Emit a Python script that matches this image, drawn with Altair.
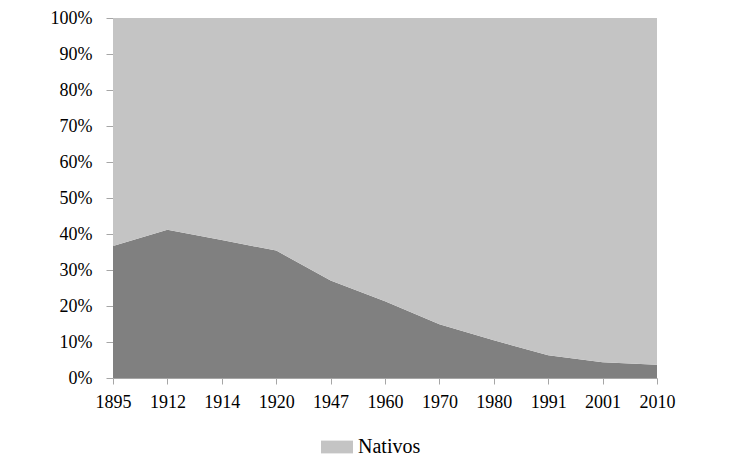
import altair as alt
import pandas as pd

years = ["1895", "1912", "1914", "1920", "1947", "1960", "1970", "1980", "1991", "2001", "2010"]
extranjeros = [36.7, 41.2, 38.3, 35.4, 27.1, 21.3, 14.9, 10.5, 6.3, 4.4, 3.7]
nativos = [round(100 - v, 1) for v in extranjeros]

rows = []
for y, e, n in zip(years, extranjeros, nativos):
    rows.append({"year": y, "grupo": "Extranjeros", "valor": e, "orden": 0})
    rows.append({"year": y, "grupo": "Nativos", "valor": n, "orden": 1})
df = pd.DataFrame(rows)

font = "Liberation Serif"

chart = alt.Chart(df).mark_area(opacity=1).encode(
    x=alt.X("year:O", sort=years, title=None,
            scale=alt.Scale(type="point", padding=0),
            axis=alt.Axis(labelAngle=0, labelFont=font, labelFontSize=18, labelColor="#000",
                          domainColor="#a6a6a6", tickColor="#a6a6a6", tickSize=6,
                          labelPadding=9)),
    y=alt.Y("valor:Q", stack="normalize", title=None,
            scale=alt.Scale(domain=[0, 1]),
            axis=alt.Axis(format="%", values=[0, .1, .2, .3, .4, .5, .6, .7, .8, .9, 1],
                          labelFont=font, labelFontSize=18, labelColor="#000",
                          domainColor="#a6a6a6", tickColor="#a6a6a6", tickSize=7,
                          grid=False, labelPadding=14)),
    color=alt.Color("grupo:N", title=None,
                    scale=alt.Scale(domain=["Extranjeros", "Nativos"], range=["#808080", "#c4c4c4"]),
                    legend=alt.Legend(values=["Nativos"], orient="none", legendX=208, legendY=413,
                                      symbolType="M-1,-0.4L1,-0.4L1,0.4L-1,0.4Z", symbolSize=1024,
                                      symbolStrokeWidth=0, symbolOpacity=1, labelOffset=5)),
    order=alt.Order("orden:Q"),
).properties(
    width=544, height=360,
    autosize=alt.AutoSizeParams(type="none"),
    padding={"left": 105, "top": 10, "right": 60, "bottom": 86},
).configure_view(stroke=None).configure_legend(
    labelFont=font, labelFontSize=20, labelColor="#000"
)

chart.save("out.html", embed_options={"renderer": "svg", "actions": False})
